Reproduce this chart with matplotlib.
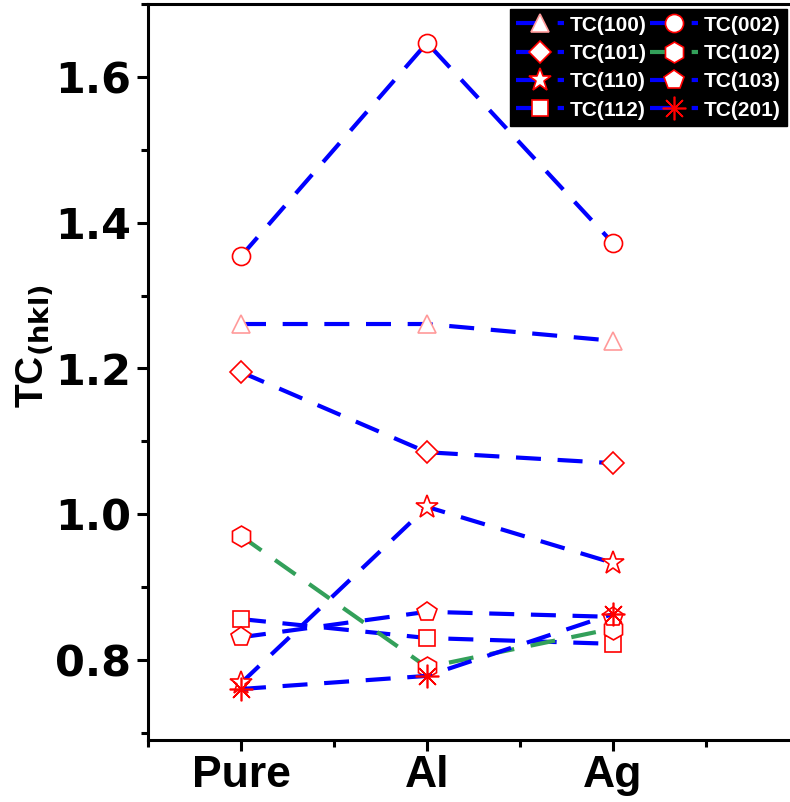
import matplotlib
matplotlib.use("Agg")
import matplotlib.pyplot as plt
from matplotlib.ticker import MultipleLocator, FixedLocator

plt.rcParams['font.family'] = ['Liberation Sans', 'DejaVu Sans']
plt.rcParams['font.weight'] = 'bold'

samples = ['Pure', 'Al', 'Ag']
xpos = [1, 2, 3]

tc100 = [1.261, 1.261, 1.238]
tc002 = [1.354, 1.647, 1.372]
tc101 = [1.195, 1.085, 1.070]
tc102 = [0.970, 0.790, 0.843]
tc110 = [0.768, 1.010, 0.933]
tc103 = [0.831, 0.866, 0.859]
tc112 = [0.856, 0.830, 0.822]
tc201 = [0.760, 0.778, 0.863]

blue = '#0000FF'
green = '#33A05A'
red = '#FF0000'

fig = plt.figure(figsize=(7.9, 8.02), dpi=100)
ax = fig.add_axes([148 / 790, 62 / 802, 651 / 790, 735.8 / 802])

dash = (6, 4)
series = [
    (tc100, '^', 'TC(100)', blue, '#FF9A9A', 13),
    (tc101, 'D', 'TC(101)', blue, red, 11),
    (tc110, '*', 'TC(110)', blue, red, 17),
    (tc112, 's', 'TC(112)', blue, red, 12),
    (tc002, 'o', 'TC(002)', blue, red, 13),
    (tc102, 'h', 'TC(102)', green, red, 15),
    (tc103, 'p', 'TC(103)', blue, red, 15),
    (tc201, (8, 2, 0), 'TC(201)', blue, red, 17),
]

for vals, mk, lab, lc, ec, ms in series:
    ax.plot(xpos, vals, color=lc, lw=3, dashes=dash, label=lab,
            marker=mk, markersize=ms, markerfacecolor='white',
            markeredgecolor=ec, markeredgewidth=1.2)

ax.set_xlim(0.5, 4.0)
ax.set_ylim(0.69, 1.70)
ax.set_xticks(xpos)
ax.set_xticklabels(samples)
ax.xaxis.set_minor_locator(FixedLocator([0.5, 1.5, 2.5, 3.5]))
ax.yaxis.set_major_locator(MultipleLocator(0.2))
ax.yaxis.set_minor_locator(MultipleLocator(0.1))
ax.tick_params(axis='both', which='major', direction='out', length=8, width=2.2)
ax.tick_params(axis='both', which='minor', direction='out', length=5, width=2.2)
ax.tick_params(axis='x', pad=3, labelsize=32)
ax.tick_params(axis='y', pad=4, labelsize=31)
for lbl in ax.get_xticklabels():
    lbl.set_fontweight('bold')
for lbl in ax.get_yticklabels():
    lbl.set_fontweight('bold')
    lbl.set_family('DejaVu Sans')
for sp in ax.spines.values():
    sp.set_linewidth(2.2)

ax.set_ylabel(r'TC$_{\mathbf{(hkl)}}$', fontsize=28, fontweight='bold')
ax.yaxis.set_label_coords(-0.142, 0.535)

handles, labels = ax.get_legend_handles_labels()
leg = ax.legend(handles, labels, ncol=2, loc='upper left',
                bbox_to_anchor=(0.556, 0.993), facecolor='black', edgecolor='black',
                framealpha=1, fancybox=False, fontsize=15, handlelength=2.3,
                columnspacing=0.2, handletextpad=0.25, labelspacing=0.45,
                borderpad=0.3, borderaxespad=0)
for t in leg.get_texts():
    t.set_color('white')
    t.set_fontweight('bold')

fig.savefig('out.png', dpi=100)
